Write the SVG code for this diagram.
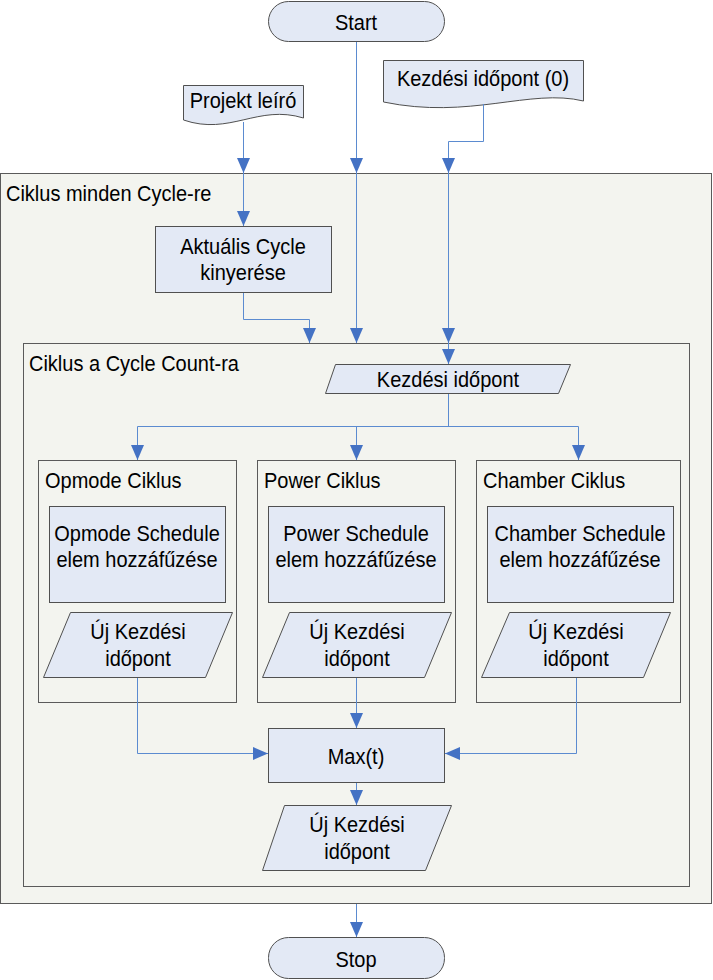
<svg xmlns="http://www.w3.org/2000/svg" width="713" height="980" viewBox="0 0 713 980">
<defs>
<style>
text{font-family:"Liberation Sans",Arial,sans-serif;font-size:20px;fill:#000;transform-box:fill-box;transform-origin:center;transform:scaleY(1.12)}
.c{text-anchor:middle}
.frame{fill:#f3f4ef;stroke:#5a5a5a;stroke-width:1}
.box{fill:#e3e9f5;stroke:#505050;stroke-width:1}
.ln{fill:none;stroke:#5b8bd0;stroke-width:1}
</style>
<marker id="ah" markerUnits="userSpaceOnUse" markerWidth="16" markerHeight="14" refX="15" refY="6.5" orient="auto">
<path d="M0,0 L15,6.5 L0,13 Z" fill="#4472c4"/>
</marker>
</defs>
<rect width="713" height="980" fill="#fff"/>
<g id="outer-frame">
<rect class="frame" x="0.5" y="173.5" width="711" height="730"/>
<text x="6" y="200">Ciklus minden Cycle-re</text>
</g>
<g id="inner-frame">
<rect class="frame" x="23.5" y="343.5" width="666" height="543"/>
<text x="29" y="370">Ciklus a Cycle Count-ra</text>
</g>
<g id="opmode-frame">
<rect class="frame" x="38.5" y="460.5" width="198" height="242"/>
<text x="45" y="487">Opmode Ciklus</text>
</g>
<g id="power-frame">
<rect class="frame" x="257.5" y="460.5" width="198" height="242"/>
<text x="264" y="487">Power Ciklus</text>
</g>
<g id="chamber-frame">
<rect class="frame" x="476.5" y="460.5" width="204" height="242"/>
<text x="483" y="487">Chamber Ciklus</text>
</g>
<g id="start">
<rect class="box" x="268.5" y="1.5" width="176" height="40" rx="20"/>
<text class="c" x="356" y="29">Start</text>
</g>
<g id="projekt">
<path class="box" d="M183.5,85.5 H303.5 V118 C258,104 230,136 183.5,120 Z"/>
<text class="c" x="243" y="107">Projekt leíró</text>
</g>
<g id="kezdesi0">
<path class="box" d="M383.5,60.5 H583.5 V101 C530,88 470,120 383.5,102 Z"/>
<text class="c" x="483" y="85">Kezdési időpont (0)</text>
</g>
<g id="aktualis">
<rect class="box" x="155.5" y="226.5" width="176" height="66"/>
<text class="c" x="243" y="253">Aktuális Cycle</text>
<text class="c" x="243" y="279">kinyerése</text>
</g>
<g id="kezdesi">
<path class="box" d="M335.5,364.5 H570.5 L558.5,393.5 H325.5 Z"/>
<text class="c" x="448" y="386">Kezdési időpont</text>
</g>
<g id="opmode-schedule">
<rect class="box" x="49.5" y="506.5" width="176" height="96"/>
<text class="c" x="137" y="540">Opmode Schedule</text>
<text class="c" x="137" y="566">elem hozzáfűzése</text>
</g>
<g id="opmode-uj">
<path class="box" d="M70.5,612.5 H232.5 L205.5,677.5 H43.5 Z"/>
<text class="c" x="138" y="638">Új Kezdési</text>
<text class="c" x="138" y="665">időpont</text>
</g>
<g id="power-schedule">
<rect class="box" x="268.5" y="506.5" width="176" height="96"/>
<text class="c" x="356" y="540">Power Schedule</text>
<text class="c" x="356" y="566">elem hozzáfűzése</text>
</g>
<g id="power-uj">
<path class="box" d="M289.5,612.5 H451.5 L424.5,677.5 H262.5 Z"/>
<text class="c" x="357" y="638">Új Kezdési</text>
<text class="c" x="357" y="665">időpont</text>
</g>
<g id="chamber-schedule">
<rect class="box" x="487.5" y="506.5" width="186" height="96"/>
<text class="c" x="580" y="540">Chamber Schedule</text>
<text class="c" x="580" y="566">elem hozzáfűzése</text>
</g>
<g id="chamber-uj">
<path class="box" d="M509.5,612.5 H670.5 L643.5,677.5 H481.5 Z"/>
<text class="c" x="576" y="638">Új Kezdési</text>
<text class="c" x="576" y="665">időpont</text>
</g>
<g id="max">
<rect class="box" x="268.5" y="728.5" width="176" height="54"/>
<text class="c" x="356" y="763">Max(t)</text>
</g>
<g id="final-uj">
<path class="box" d="M284.5,805.5 H451.5 L425.5,870.5 H262.5 Z"/>
<text class="c" x="357" y="831">Új Kezdési</text>
<text class="c" x="357" y="858">időpont</text>
</g>
<g id="stop">
<rect class="box" x="268.5" y="937.5" width="176" height="41" rx="20"/>
<text class="c" x="356" y="966">Stop</text>
</g>
<g id="connectors">
<path class="ln" d="M243.5,122 V173" marker-end="url(#ah)"/>
<path class="ln" d="M243.5,173 V226" marker-end="url(#ah)"/>
<path class="ln" d="M356.5,42 V173" marker-end="url(#ah)"/>
<path class="ln" d="M356.5,173 V343" marker-end="url(#ah)"/>
<path class="ln" d="M483.5,104 V141.5 H448.5 V173" marker-end="url(#ah)"/>
<path class="ln" d="M448.5,173 V343" marker-end="url(#ah)"/>
<path class="ln" d="M448.5,343 V364" marker-end="url(#ah)"/>
<path class="ln" d="M243.5,293 V319.5 H309.5 V343" marker-end="url(#ah)"/>
<path class="ln" d="M448.5,394 V426.5"/>
<path class="ln" d="M137.5,426.5 H578.5"/>
<path class="ln" d="M137.5,426.5 V460" marker-end="url(#ah)"/>
<path class="ln" d="M356.5,426.5 V460" marker-end="url(#ah)"/>
<path class="ln" d="M578.5,426.5 V460" marker-end="url(#ah)"/>
<path class="ln" d="M137.5,678 V753.5 H268" marker-end="url(#ah)"/>
<path class="ln" d="M356.5,678 V728" marker-end="url(#ah)"/>
<path class="ln" d="M576.5,678 V753.5 H445" marker-end="url(#ah)"/>
<path class="ln" d="M356.5,783 V805" marker-end="url(#ah)"/>
<path class="ln" d="M356.5,904 V937" marker-end="url(#ah)"/>
</g>
</svg>
